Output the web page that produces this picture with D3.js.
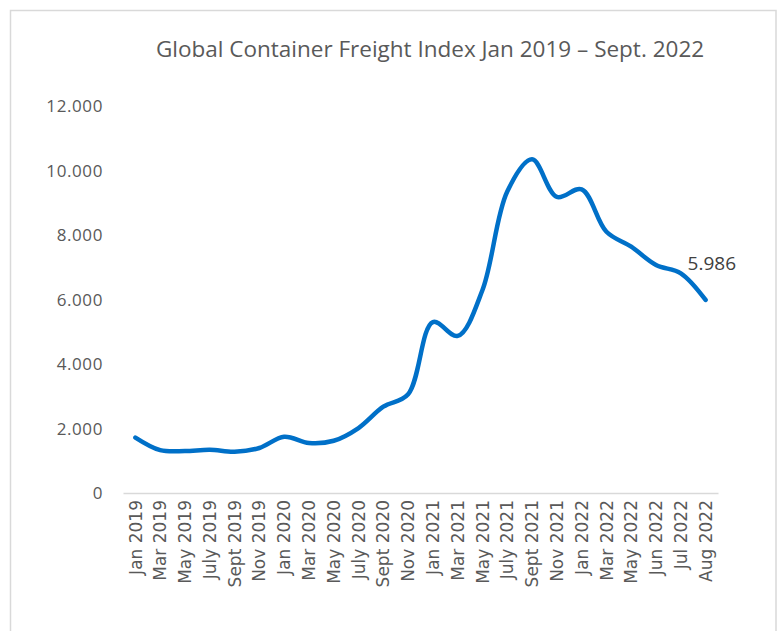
<!DOCTYPE html>
<html>
<head>
<meta charset="utf-8">
<script src="https://cdn.jsdelivr.net/npm/d3@7/dist/d3.min.js"></script>
<style>
  html, body { margin: 0; padding: 0; background: #fff; }
  svg { display: block; }
</style>
</head>
<body>
<svg id="chart" width="777" height="631"></svg>
<script>
const categories = ["Jan 2019","Mar 2019","May 2019","July 2019","Sept 2019","Nov 2019",
  "Jan 2020","Mar 2020","May 2020","July 2020","Sept 2020","Nov 2020",
  "Jan 2021","Mar 2021","May 2021","July 2021","Sept 2021","Nov 2021",
  "Jan 2022","Mar 2022","May 2022","Jun 2022","Jul 2022","Aug 2022"];
const values = [1720, 1330, 1300, 1340, 1280, 1395,
  1745, 1550, 1620, 2015, 2675, 3060,
  5300, 4870, 6295, 9350, 10347, 9180,
  9416, 8100, 7637, 7070, 6812, 5986];
const yTicks = [0, 2000, 4000, 6000, 8000, 10000, 12000];
const title = "Global Container Freight Index Jan 2019 \u2013 Sept. 2022";

const svg = d3.select("#chart");
const font = "'Open Sans', 'Noto Sans', sans-serif";

// frame
svg.append("path")
  .attr("d", "M10.5,631 V10.5 H776 V631")
  .attr("fill", "none").attr("stroke", "#d9d9d9").attr("stroke-width", 1.5);

// title
svg.append("text")
  .attr("x", 430).attr("y", 57)
  .attr("text-anchor", "middle")
  .attr("font-family", font).attr("font-size", 22.5)
  .attr("fill", "#595959")
  .text(title);

const x = d3.scaleBand().domain(categories).range([123, 718]);
const y = d3.scaleLinear().domain([0, 12000]).range([493, 106]);

// y axis labels
const yAxis = d3.axisLeft(y).tickValues(yTicks).tickSize(0).tickPadding(0)
  .tickFormat(d => d === 0 ? "0" : d3.format(",")(d).replace(/,/g, "."));
const gy = svg.append("g").attr("transform", "translate(103,0)").call(yAxis);
gy.select(".domain").remove();
gy.selectAll("text").attr("font-family", font).attr("font-size", 17)
  .attr("letter-spacing", 0.6)
  .attr("fill", "#595959").attr("dy", "0.35em");

// x axis
const xAxis = d3.axisBottom(x).tickSize(0).tickPadding(0);
const gx = svg.append("g").attr("transform", "translate(0,493)").call(xAxis);
gx.select(".domain").attr("stroke", "#d9d9d9").attr("stroke-width", 1.5);
gx.selectAll("text")
  .attr("font-family", "'DejaVu Sans', sans-serif").attr("font-size", 17).attr("fill", "#595959")
  .attr("text-anchor", "end")
  .attr("transform", "rotate(-90)")
  .attr("x", -7).attr("y", 0).attr("dy", "0.36em");

// line
const line = d3.line()
  .x((d, i) => x(categories[i]) + x.bandwidth() / 2)
  .y(d => y(d))
  .curve(d3.curveCatmullRom.alpha(0.5));
svg.append("path")
  .datum(values)
  .attr("d", line)
  .attr("fill", "none")
  .attr("stroke", "#0070c8")
  .attr("stroke-width", 4.5)
  .attr("stroke-linecap", "round")
  .attr("stroke-linejoin", "round");

// data label on last point
const lastI = values.length - 1;
svg.append("text")
  .attr("x", x(categories[lastI]) + x.bandwidth() / 2 - 18)
  .attr("y", y(values[lastI]) - 30)
  .attr("font-family", font).attr("font-size", 19).attr("fill", "#404040")
  .text(d3.format(",")(values[lastI]).replace(/,/g, "."));
</script>
</body>
</html>
